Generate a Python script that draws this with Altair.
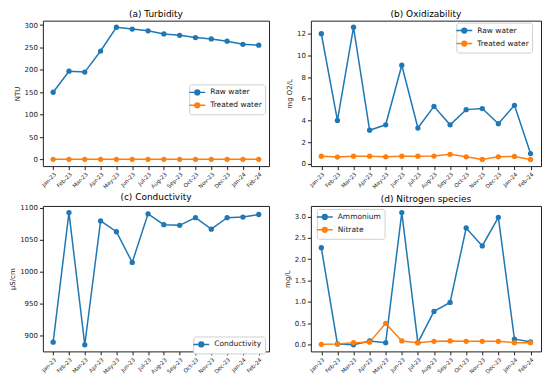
import altair as alt
import pandas as pd

months = ["Jan-23", "Feb-23", "Mar-23", "Apr-23", "May-23", "Jun-23", "Jul-23",
          "Aug-23", "Sep-23", "Oct-23", "Nov-23", "Dec-23", "Jan-24", "Feb-24"]

turb_raw = [150, 197, 195, 242, 295, 291, 287, 280, 277, 272, 269, 264, 257, 255]
turb_treated = [0.3] * 14

oxid_raw = [12.0, 4.0, 12.6, 3.1, 3.6, 9.1, 3.3, 5.3, 3.6, 5.0, 5.1, 3.7, 5.4, 0.95]
oxid_treated = [0.7, 0.62, 0.7, 0.7, 0.65, 0.7, 0.7, 0.72, 0.88, 0.65, 0.4, 0.65, 0.68, 0.4]

conductivity = [889, 1092, 885, 1079, 1062, 1014, 1090, 1073, 1072, 1084, 1066, 1084, 1085, 1089]

ammonium = [2.27, 0.02, 0.0, 0.09, 0.05, 3.09, 0.05, 0.78, 0.99, 2.73, 2.31, 2.98, 0.13, 0.07]
nitrate = [0.01, 0.02, 0.05, 0.06, 0.5, 0.09, 0.05, 0.08, 0.09, 0.08, 0.08, 0.08, 0.05, 0.05]

BLUE = "#1f77b4"
ORANGE = "#ff7f0e"
FONT = "DejaVu Sans"
SYM = "M-2,0H2M-0.6,0A0.6,0.6 0 1,1 0.6,0A0.6,0.6 0 1,1 -0.6,0Z"


def long(series):
    rows = []
    for name, vals in series:
        for m, v in zip(months, vals):
            rows.append({"month": m, "series": name, "value": v})
    return pd.DataFrame(rows)


def panel(series, title, ytitle, domain, ticks, lx, ly, width, fmt="d"):
    df = long(series)
    names = [s[0] for s in series]
    colors = [BLUE, ORANGE][: len(names)]
    return alt.Chart(df, title=alt.TitleParams(title, fontSize=9, font=FONT,
                                               fontWeight="normal", offset=2)).mark_line(
        strokeWidth=1.5,
        point=alt.OverlayMarkDef(size=28, filled=True, opacity=1),
    ).encode(
        x=alt.X("month:O", sort=months, scale=alt.Scale(padding=0.65),
                axis=alt.Axis(title=None, labelAngle=-45, labelAlign="right",
                              labelBaseline="top", labelFontSize=5.5)),
        y=alt.Y("value:Q", scale=alt.Scale(domain=domain, nice=False, zero=False),
                axis=alt.Axis(values=ticks, title=ytitle, grid=False, format=fmt)),
        color=alt.Color("series:N", sort=names,
                        scale=alt.Scale(domain=names, range=colors),
                        legend=alt.Legend(title=None, orient="none", legendX=lx, legendY=ly,
                                          symbolType=SYM, symbolSize=64,
                                          symbolStrokeWidth=1.5, labelFontSize=7.5,
                                          labelFont=FONT, labelOffset=8,
                                          padding=3, rowPadding=1,
                                          strokeColor="#d0d0d0", fillColor="white",
                                          cornerRadius=2)),
    ).properties(width=width, height=146)


a = panel([("Raw water", turb_raw), ("Treated water", turb_treated)],
          "(a) Turbidity", "NTU", [-14.75, 309.75], list(range(0, 301, 50)), 147, 64, 227)
b = panel([("Raw water", oxid_raw), ("Treated water", oxid_treated)],
          "(b) Oxidizability", "mg O2/L", [-0.21, 13.21], list(range(0, 13, 2)), 146, 2, 231)
c = panel([("Conductivity", conductivity)],
          "(c) Conductivity", "µS/cm", [874.6, 1102.4], list(range(900, 1101, 50)), 151, 131, 227)
d = panel([("Ammonium", ammonium), ("Nitrate", nitrate)],
          "(d) Nitrogen species", "mg/L", [-0.155, 3.245], [0, 0.5, 1.0, 1.5, 2.0, 2.5, 3.0],
          6, 3, 231, fmt=".1f")

chart = alt.concat(a, b, c, d, columns=2, spacing={"row": 1, "column": 12}).resolve_scale(
    color="independent"
).resolve_legend(color="independent").properties(padding=0).configure_view(
    stroke="#222222", strokeWidth=1
).configure_axis(
    domain=False, tickColor="#222222", tickSize=3.5, labelColor="#222222",
    labelFont=FONT, labelFontSize=7, titleFont=FONT, titleFontSize=7,
    titleFontWeight="normal", titleColor="#222222", labelPadding=2, titlePadding=4,
).configure_legend(labelColor="#222222")

chart.save("out.html", embed_options={"renderer": "svg", "actions": False})
